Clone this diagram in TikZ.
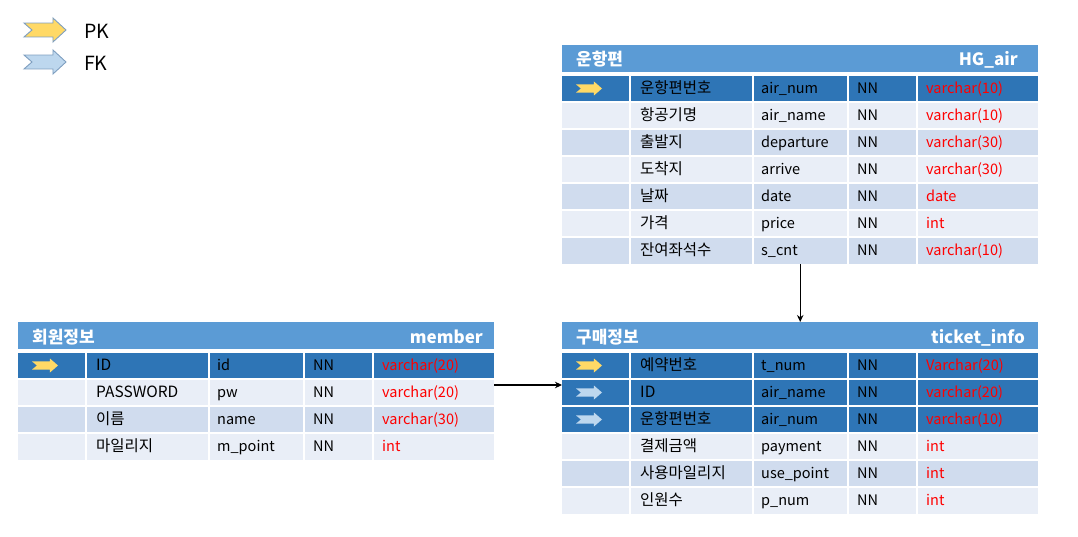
\documentclass[tikz,border=0pt]{standalone}
\usepackage{fontspec}
\setmainfont{Noto Sans CJK KR}
\usetikzlibrary{arrows.meta}
\definecolor{hdr}{HTML}{5B9BD5}
\definecolor{dark}{HTML}{2E75B6}
\definecolor{light}{HTML}{E9EEF7}
\definecolor{mid}{HTML}{D0DCEE}
\definecolor{pkyellow}{HTML}{FFD966}
\definecolor{fkblue}{HTML}{BDD7EE}
\definecolor{legedge}{HTML}{7F9FC0}
\definecolor{typered}{HTML}{FF0000}
\tikzset{
  sep/.style={white, line width=1.4pt},
  cell/.style={anchor=base west, inner sep=0pt, text=black, font=\fontsize{14.5}{16}\selectfont},
  kocell/.style={cell, font=\fontsize{15.5}{17}\selectfont},
  typecell/.style={cell, text=typered},
  hdrtext/.style={inner sep=0pt, text=white, font=\fontsize{17}{19}\selectfont\bfseries},
  legtext/.style={anchor=base west, inner sep=0pt, font=\fontsize{19.5}{21}\selectfont},
  pkleg/.style={fill=pkyellow, draw=legedge, line width=0.9pt},
  fkleg/.style={fill=fkblue, draw=legedge, line width=0.9pt},
  pksmall/.style={fill=pkyellow},
  fksmall/.style={fill=fkblue},
  conn/.style={draw=black, line width=1.4pt, -{Stealth[length=7pt,width=6.5pt]}},
  tblframe/.style={anchor=north west, inner sep=0pt, minimum width=476pt}
}
\newcommand\notcharrow[5]{%
  \begin{scope}[shift={(#1,#2)},xscale=#3,yscale=#4]
    \path[#5] (0,-0.29) -- (0.69,-0.29) -- (0.69,-0.5) -- (1,0) -- (0.69,0.5) -- (0.69,0.29) -- (0,0.29) -- (0.19,0) -- cycle;
  \end{scope}}
\newcommand\erdtable[8]{%
  \node[tblframe, minimum height={(30+27*#4)*1pt}] (#1) at (#2,#3) {};
  \fill[hdr] (#2,#3) rectangle ++(476,27);
  \node[hdrtext, anchor=base west] (#1-title) at (#2+14,#3+21) {#5};
  \node[hdrtext, anchor=base east] (#1-en) at (#2+476-#8,#3+21) {#6};
  \foreach \bg/\key/\ko/\fld/\nn/\ty [count=\i from 0] in {#7}{
    \pgfmathsetmacro\ry{#3+30+27*\i}
    \fill[\bg] (#2,\ry) rectangle ++(476,27);
    \draw[sep] (#2,\ry) -- ++(476,0);
    \foreach \cx in {68,191,286,355} \draw[sep] (#2+\cx,\ry) -- ++(0,27);
    \node[kocell] (#1-\i-ko) at (#2+78,\ry+18.5) {\ko};
    \node[cell] (#1-\i-fld) at (#2+199,\ry+18.5) {\fld};
    \node[cell] (#1-\i-nn) at (#2+295,\ry+18.5) {\nn};
    \node[typecell] (#1-\i-ty) at (#2+364,\ry+18.5) {\ty};
    \ifcase\key\relax\or
      \notcharrow{#2+14}{\ry+13.5}{26}{14}{pksmall}\or
      \notcharrow{#2+14}{\ry+13.5}{26}{14}{fksmall}\fi
  }
}
\begin{document}
\begin{tikzpicture}[x=1pt,y=-1pt]
\useasboundingbox (0,0) rectangle (1078,537);
% legend
\notcharrow{24}{30}{42}{24}{pkleg}
\notcharrow{24}{62}{42}{24}{fkleg}
\node[legtext] (pk) at (84,39) {PK};
\node[legtext] (fk) at (84,71) {FK};
% tables
\erdtable{air}{562}{45}{7}{운항편}{HG\_air}{%
  dark/1/운항편번호/air\_num/NN/varchar(10),
  light/0/항공기명/air\_name/NN/varchar(10),
  mid/0/출발지/departure/NN/varchar(30),
  light/0/도착지/arrive/NN/varchar(30),
  mid/0/날짜/date/NN/date,
  light/0/가격/price/NN/int,
  mid/0/잔여좌석수/s\_cnt/NN/varchar(10)}{20}
\erdtable{member}{18}{322}{4}{회원정보}{member}{%
  dark/1/ID/id/NN/varchar(20),
  light/0/PASSWORD/pw/NN/varchar(20),
  mid/0/이름/name/NN/varchar(30),
  light/0/마일리지/m\_point/NN/int}{11}
\erdtable{ticket}{562}{322}{6}{구매정보}{ticket\_info}{%
  dark/1/예약번호/t\_num/NN/Varchar(20),
  dark/2/ID/air\_name/NN/varchar(20),
  dark/2/운항편번호/air\_num/NN/varchar(10),
  light/0/결제금액/payment/NN/int,
  mid/0/사용마일리지/use\_point/NN/int,
  light/0/인원수/p\_num/NN/int}{13}
% connectors
\coordinate (hy) at (0,385);
\draw[conn] (air.south) -- (ticket.north);
\draw[conn] (member.east |- hy) -- (ticket.west |- hy);
\end{tikzpicture}
\end{document}
